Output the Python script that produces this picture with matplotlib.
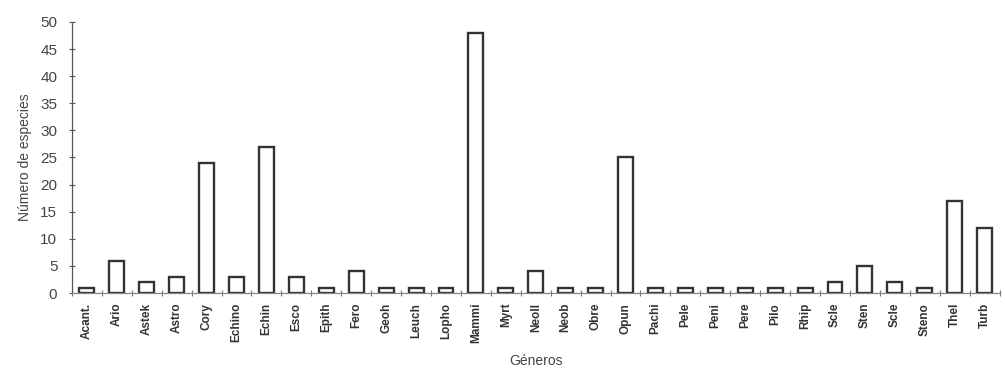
import numpy as np
import matplotlib.pyplot as plt
from matplotlib.ticker import FixedLocator

plt.rcParams['font.family'] = ['Liberation Sans', 'DejaVu Sans']

generos = ['Acant.', 'Ario', 'Astek', 'Astro', 'Cory', 'Echino', 'Echin', 'Esco',
           'Epith', 'Fero', 'Geoh', 'Leuch', 'Lopho', 'Mammi', 'Myrt', 'Neoll',
           'Neob', 'Obre', 'Opun', 'Pachi', 'Pele', 'Peni', 'Pere', 'Pilo',
           'Rhip', 'Scle', 'Sten', 'Scle', 'Steno', 'Thel', 'Turb']
especies = [1, 6, 2, 3, 24, 3, 27, 3,
            1, 4, 1, 1, 1, 48, 1, 4,
            1, 1, 25, 1, 1, 1, 1, 1,
            1, 2, 5, 2, 1, 17, 12]
y_ticks = [0, 5, 10, 15, 20, 25, 30, 35, 40, 45, 50]

fig = plt.figure(figsize=(10.05, 3.71), dpi=100)
ax = fig.add_axes([0.0716, 0.210, 0.923, 0.731])

x = np.arange(len(generos))
ax.bar(x, especies, width=0.5, facecolor='white', edgecolor='#333333', linewidth=1.7)

ax.set_xlim(-0.5, len(generos) - 0.5)
ax.set_ylim(0, 50)
ax.set_yticks(y_ticks)
ax.tick_params(axis='y', direction='inout', length=5, width=0.8, color='#555555',
               labelsize=11, labelcolor='#444444', pad=8)

ax.set_xticks(x)
ax.set_xticklabels(generos, rotation=90, fontsize=8.5, color='#333333', fontweight='bold')
ax.tick_params(axis='x', which='major', length=0, pad=7)
ax.xaxis.set_minor_locator(FixedLocator(np.arange(len(generos) + 1) - 0.5))
ax.tick_params(axis='x', which='minor', direction='inout', length=5, width=0.8, color='#777777')

for s in ['top', 'right']:
    ax.spines[s].set_visible(False)
ax.spines['left'].set_color('#555555')
ax.spines['bottom'].set_color('#888888')
ax.spines['left'].set_linewidth(0.9)
ax.spines['bottom'].set_linewidth(0.9)

ax.set_ylabel('Número de especies', fontsize=10, color='#444444', labelpad=6)
ax.set_xlabel('Géneros', fontsize=10, color='#444444', labelpad=8)

fig.savefig('out.png', dpi=100)
